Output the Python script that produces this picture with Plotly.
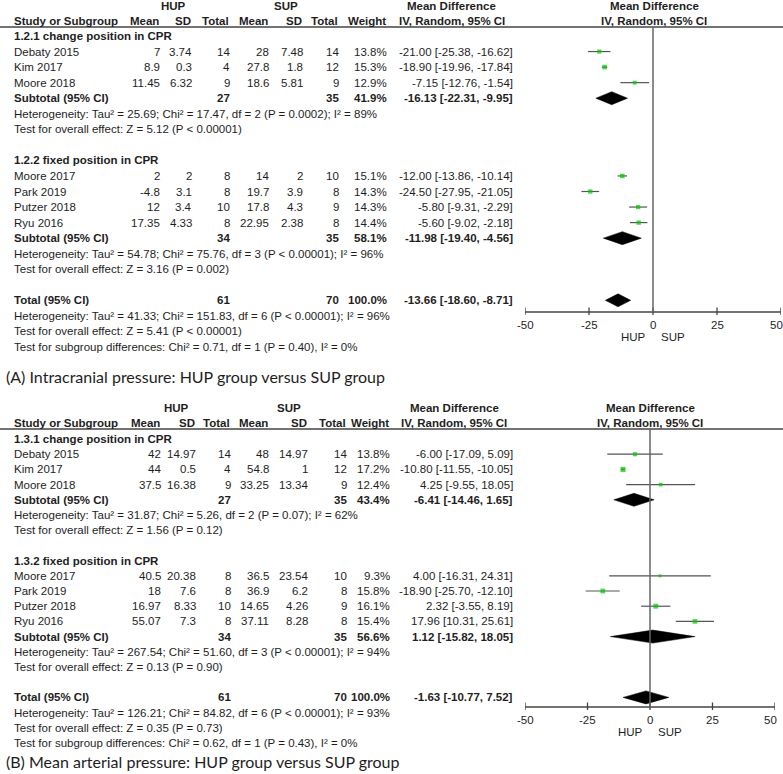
import plotly.graph_objects as go

W, H = 783, 774

# ---------------- DATA ----------------
# Panel A: Intracranial pressure
A_sub1_title = "1.2.1 change position in CPR"
A_sub1_study = ["Debaty 2015", "Kim 2017", "Moore 2018"]
A_sub1_hup_mean = [7, 8.9, 11.45]
A_sub1_hup_sd = [3.74, 0.3, 6.32]
A_sub1_hup_n = [14, 4, 9]
A_sub1_sup_mean = [28, 27.8, 18.6]
A_sub1_sup_sd = [7.48, 1.8, 5.81]
A_sub1_sup_n = [14, 12, 9]
A_sub1_weight = [13.8, 15.3, 12.9]
A_sub1_md = [-21.00, -18.90, -7.15]
A_sub1_lo = [-25.38, -19.96, -12.76]
A_sub1_hi = [-16.62, -17.84, -1.54]
A_sub1_total = [27, 35, 41.9, -16.13, -22.31, -9.95]
A_sub1_het = "Heterogeneity: Tau² = 25.69; Chi² = 17.47, df = 2 (P = 0.0002); I² = 89%"
A_sub1_test = "Test for overall effect: Z = 5.12 (P < 0.00001)"

A_sub2_title = "1.2.2 fixed position in CPR"
A_sub2_study = ["Moore 2017", "Park 2019", "Putzer 2018", "Ryu 2016"]
A_sub2_hup_mean = [2, -4.8, 12, 17.35]
A_sub2_hup_sd = [2, 3.1, 3.4, 4.33]
A_sub2_hup_n = [8, 8, 10, 8]
A_sub2_sup_mean = [14, 19.7, 17.8, 22.95]
A_sub2_sup_sd = [2, 3.9, 4.3, 2.38]
A_sub2_sup_n = [10, 8, 9, 8]
A_sub2_weight = [15.1, 14.3, 14.3, 14.4]
A_sub2_md = [-12.00, -24.50, -5.80, -5.60]
A_sub2_lo = [-13.86, -27.95, -9.31, -9.02]
A_sub2_hi = [-10.14, -21.05, -2.29, -2.18]
A_sub2_total = [34, 35, 58.1, -11.98, -19.40, -4.56]
A_sub2_het = "Heterogeneity: Tau² = 54.78; Chi² = 75.76, df = 3 (P < 0.00001); I² = 96%"
A_sub2_test = "Test for overall effect: Z = 3.16 (P = 0.002)"

A_total = [61, 70, 100.0, -13.66, -18.60, -8.71]
A_total_het = "Heterogeneity: Tau² = 41.33; Chi² = 151.83, df = 6 (P < 0.00001); I² = 96%"
A_total_test = "Test for overall effect: Z = 5.41 (P < 0.00001)"
A_subgroup_test = "Test for subgroup differences: Chi² = 0.71, df = 1 (P = 0.40), I² = 0%"
A_caption = "(A) Intracranial pressure: HUP group versus SUP group"

# Panel B: Mean arterial pressure
B_sub1_title = "1.3.1 change position in CPR"
B_sub1_study = ["Debaty 2015", "Kim 2017", "Moore 2018"]
B_sub1_hup_mean = [42, 44, 37.5]
B_sub1_hup_sd = [14.97, 0.5, 16.38]
B_sub1_hup_n = [14, 4, 9]
B_sub1_sup_mean = [48, 54.8, 33.25]
B_sub1_sup_sd = [14.97, 1, 13.34]
B_sub1_sup_n = [14, 12, 9]
B_sub1_weight = [13.8, 17.2, 12.4]
B_sub1_md = [-6.00, -10.80, 4.25]
B_sub1_lo = [-17.09, -11.55, -9.55]
B_sub1_hi = [5.09, -10.05, 18.05]
B_sub1_total = [27, 35, 43.4, -6.41, -14.46, 1.65]
B_sub1_het = "Heterogeneity: Tau² = 31.87; Chi² = 5.26, df = 2 (P = 0.07); I² = 62%"
B_sub1_test = "Test for overall effect: Z = 1.56 (P = 0.12)"

B_sub2_title = "1.3.2 fixed position in CPR"
B_sub2_study = ["Moore 2017", "Park 2019", "Putzer 2018", "Ryu 2016"]
B_sub2_hup_mean = [40.5, 18, 16.97, 55.07]
B_sub2_hup_sd = [20.38, 7.6, 8.33, 7.3]
B_sub2_hup_n = [8, 8, 10, 8]
B_sub2_sup_mean = [36.5, 36.9, 14.65, 37.11]
B_sub2_sup_sd = [23.54, 6.2, 4.26, 8.28]
B_sub2_sup_n = [10, 8, 9, 8]
B_sub2_weight = [9.3, 15.8, 16.1, 15.4]
B_sub2_md = [4.00, -18.90, 2.32, 17.96]
B_sub2_lo = [-16.31, -25.70, -3.55, 10.31]
B_sub2_hi = [24.31, -12.10, 8.19, 25.61]
B_sub2_total = [34, 35, 56.6, 1.12, -15.82, 18.05]
B_sub2_het = "Heterogeneity: Tau² = 267.54; Chi² = 51.60, df = 3 (P < 0.00001); I² = 94%"
B_sub2_test = "Test for overall effect: Z = 0.13 (P = 0.90)"

B_total = [61, 70, 100.0, -1.63, -10.77, 7.52]
B_total_het = "Heterogeneity: Tau² = 126.21; Chi² = 84.82, df = 6 (P < 0.00001); I² = 93%"
B_total_test = "Test for overall effect: Z = 0.35 (P = 0.73)"
B_subgroup_test = "Test for subgroup differences: Chi² = 0.62, df = 1 (P = 0.43), I² = 0%"
B_caption = "(B) Mean arterial pressure: HUP group versus SUP group"

tick_vals = [-50, -25, 0, 25, 50]
col_headers = ["Mean", "SD", "Total", "Mean", "SD", "Total", "Weight"]

# ---------------- STYLE / LAYOUT ----------------
FONT = "Liberation Sans, Arial, sans-serif"
TXT = "#1e1e1e"
FS = 11.5
GREEN = "#00c800"
LINEC = "#555555"

fig = go.Figure()
ann = []
shapes = []


def px(x):
    return x / W


def text(x, y, s, anchor="left", bold=False, size=FS, family=FONT, xref="paper"):
    ann.append(dict(
        x=px(x) if xref == "paper" else x, y=y, xref=xref, yref="y",
        text=("<b>%s</b>" % s) if bold else s, showarrow=False,
        xanchor=anchor, yanchor="middle",
        font=dict(family=family, size=size, color=TXT)))


def fmt(v):
    return "%g" % v


def panel(P, cfg):
    xa = cfg["xaxis"]
    rows_y = lambda i: cfg["y0"] + i * cfg["step"]
    cols = cfg["cols"]
    # group headers
    text(cfg["hup_c"], cfg["hy"], "HUP", "center", True)
    text(cfg["sup_c"], cfg["hy"], "SUP", "center", True)
    text(cfg["md_c"], cfg["hy"], "Mean Difference", "center", True)
    text(cfg["fp_c"], cfg["hy"], "Mean Difference", "center", True)
    text(12, cfg["cy"], "Study or Subgroup", "left", True)
    for c, h in zip(cols, col_headers):
        text(c, cfg["cy"], h, "right", True)
    text(cfg["md_c"], cfg["cy"], "IV, Random, 95% CI", "center", True)
    text(cfg["fp_c"], cfg["cy"], "IV, Random, 95% CI", "center", True)
    shapes.append(dict(type="line", xref="paper", yref="y", x0=0, x1=1,
                       y0=cfg["ly"], y1=cfg["ly"],
                       line=dict(color="#444444", width=1.5)))

    all_md, all_lo, all_hi, all_w, all_y = [], [], [], [], []
    diamonds = []
    r = 0
    for s in P["subs"]:
        text(12, rows_y(r), s["title"], "left", True)
        r += 1
        for i, name in enumerate(s["study"]):
            y = rows_y(r)
            text(12, y, name)
            vals = [fmt(s["hm"][i]), fmt(s["hs"][i]), fmt(s["hn"][i]),
                    fmt(s["sm"][i]), fmt(s["ss"][i]), fmt(s["sn"][i]),
                    "%.1f%%" % s["w"][i]]
            for c, v in zip(cols, vals):
                text(c + 1, y, v, "right")
            text(cfg["mdr"], y, "%.2f [%.2f, %.2f]" % (s["md"][i], s["lo"][i], s["hi"][i]), "right")
            all_md.append(s["md"][i]); all_lo.append(s["lo"][i]); all_hi.append(s["hi"][i])
            all_w.append(s["w"][i]); all_y.append(y)
            r += 1
        t = s["tot"]
        y = rows_y(r)
        text(12, y, "Subtotal (95% CI)", "left", True)
        text(cols[2] + 1, y, fmt(t[0]), "right", True)
        text(cols[5] + 1, y, fmt(t[1]), "right", True)
        text(cols[6] + 1, y, "%.1f%%" % t[2], "right", True)
        text(cfg["mdr"], y, "%.2f [%.2f, %.2f]" % (t[3], t[4], t[5]), "right", True)
        diamonds.append((t, y))
        r += 1
        text(12, rows_y(r), s["het"]); r += 1
        text(12, rows_y(r), s["test"]); r += 1
        r += 1
    t = P["total"]
    y = rows_y(r)
    text(12, y, "Total (95% CI)", "left", True)
    text(cols[2] + 1, y, fmt(t[0]), "right", True)
    text(cols[5] + 1, y, fmt(t[1]), "right", True)
    text(cols[6] + 1, y, "%.1f%%" % t[2], "right", True)
    text(cfg["mdr"], y, "%.2f [%.2f, %.2f]" % (t[3], t[4], t[5]), "right", True)
    diamonds.append((t, y))
    r += 1
    for line in P["foot"]:
        text(12, rows_y(r), line); r += 1
    text(4, cfg["capy"], P["caption"], "left", False, 16, "Lato, Carlito, sans-serif")

    # zero line
    shapes.append(dict(type="line", xref=xa, yref="y", x0=0, x1=0,
                       y0=cfg["ly"], y1=cfg["ay"], line=dict(color="#666666", width=1.5)))
    # CI + squares
    fig.add_trace(go.Scatter(
        x=all_md, y=all_y, mode="markers", xaxis=xa, yaxis="y",
        marker=dict(symbol="square", color=GREEN, size=[max(3, w * 0.3) for w in all_w],
                    line=dict(width=0)),
        error_x=dict(type="data", symmetric=False,
                     array=[h - m for h, m in zip(all_hi, all_md)],
                     arrayminus=[m - l for m, l in zip(all_md, all_lo)],
                     width=0, thickness=1.2, color=LINEC),
        hoverinfo="skip", showlegend=False, cliponaxis=False))
    # diamonds
    for t, yc in diamonds:
        hh = 6.5
        fig.add_trace(go.Scatter(
            x=[t[4], t[3], t[5], t[3], t[4]], y=[yc, yc - hh, yc, yc + hh, yc],
            xaxis=xa, yaxis="y", mode="lines", fill="toself", fillcolor="black",
            line=dict(color="black", width=0.5), hoverinfo="skip", showlegend=False))
    # axis line and ticks
    ay = cfg["ay"]
    fig.add_trace(go.Scatter(x=[tick_vals[0], tick_vals[-1]], y=[ay, ay], xaxis=xa, yaxis="y",
                             mode="lines", line=dict(color="#444444", width=1.3),
                             hoverinfo="skip", showlegend=False, cliponaxis=False))
    tx, ty = [], []
    for tv in tick_vals:
        tx += [tv, tv, None]
        ty += [ay - 4.5, ay + 3, None]
    fig.add_trace(go.Scatter(x=tx, y=ty, xaxis=xa, yaxis="y", mode="lines",
                             line=dict(color="#444444", width=1.3),
                             hoverinfo="skip", showlegend=False, cliponaxis=False))
    for i, tv in enumerate(tick_vals):
        anchor = "right" if i == len(tick_vals) - 1 else "center"
        ann.append(dict(x=tv, y=ay + 13, xref=xa, yref="y", text="%d" % tv, showarrow=False,
                        xanchor=anchor, yanchor="middle",
                        xshift=(4 if anchor == "right" else 0),
                        font=dict(family=FONT, size=FS, color=TXT)))
    ann.append(dict(x=0, y=ay + 25, xref=xa, yref="y", text="HUP", showarrow=False,
                    xanchor="right", yanchor="middle", xshift=-5,
                    font=dict(family=FONT, size=FS, color=TXT)))
    ann.append(dict(x=0, y=ay + 25, xref=xa, yref="y", text="SUP", showarrow=False,
                    xanchor="left", yanchor="middle", xshift=6,
                    font=dict(family=FONT, size=FS, color=TXT)))


PA = dict(
    subs=[dict(title=A_sub1_title, study=A_sub1_study, hm=A_sub1_hup_mean, hs=A_sub1_hup_sd,
               hn=A_sub1_hup_n, sm=A_sub1_sup_mean, ss=A_sub1_sup_sd, sn=A_sub1_sup_n,
               w=A_sub1_weight, md=A_sub1_md, lo=A_sub1_lo, hi=A_sub1_hi,
               tot=A_sub1_total, het=A_sub1_het, test=A_sub1_test),
          dict(title=A_sub2_title, study=A_sub2_study, hm=A_sub2_hup_mean, hs=A_sub2_hup_sd,
               hn=A_sub2_hup_n, sm=A_sub2_sup_mean, ss=A_sub2_sup_sd, sn=A_sub2_sup_n,
               w=A_sub2_weight, md=A_sub2_md, lo=A_sub2_lo, hi=A_sub2_hi,
               tot=A_sub2_total, het=A_sub2_het, test=A_sub2_test)],
    total=A_total, foot=[A_total_het, A_total_test, A_subgroup_test], caption=A_caption)
PB = dict(
    subs=[dict(title=B_sub1_title, study=B_sub1_study, hm=B_sub1_hup_mean, hs=B_sub1_hup_sd,
               hn=B_sub1_hup_n, sm=B_sub1_sup_mean, ss=B_sub1_sup_sd, sn=B_sub1_sup_n,
               w=B_sub1_weight, md=B_sub1_md, lo=B_sub1_lo, hi=B_sub1_hi,
               tot=B_sub1_total, het=B_sub1_het, test=B_sub1_test),
          dict(title=B_sub2_title, study=B_sub2_study, hm=B_sub2_hup_mean, hs=B_sub2_hup_sd,
               hn=B_sub2_hup_n, sm=B_sub2_sup_mean, ss=B_sub2_sup_sd, sn=B_sub2_sup_n,
               w=B_sub2_weight, md=B_sub2_md, lo=B_sub2_lo, hi=B_sub2_hi,
               tot=B_sub2_total, het=B_sub2_het, test=B_sub2_test)],
    total=B_total, foot=[B_total_het, B_total_test, B_subgroup_test], caption=B_caption)

cfgA = dict(xaxis="x", hy=6, cy=21, ly=27, y0=36, step=15.55, ay=312, capy=376,
            cols=[161, 193, 231, 270, 304, 340, 388], mdr=515,
            hup_c=173, sup_c=286, md_c=452, fp_c=654)
cfgB = dict(xaxis="x2", hy=408, cy=423, ly=429, y0=439, step=15.2, ay=707, capy=761,
            cols=[162, 197, 232, 270, 309, 348, 391], mdr=515,
            hup_c=176, sup_c=289, md_c=454, fp_c=650)

panel(PA, cfgA)
panel(PB, cfgB)

fig.update_layout(
    width=W, height=H, margin=dict(l=0, r=0, t=0, b=0),
    paper_bgcolor="white", plot_bgcolor="rgba(0,0,0,0)",
    xaxis=dict(domain=[525 / W, 781 / W], range=[-50, 50], visible=False, anchor="y"),
    xaxis2=dict(domain=[525 / W, 775 / W], range=[-50, 50], visible=False, anchor="y"),
    yaxis=dict(domain=[0, 1], range=[H, 0], visible=False),
    annotations=ann, shapes=shapes, showlegend=False)

fig.write_html("out.html", config={"displayModeBar": False},
               post_script="document.body.style.margin='0';document.body.style.padding='0';")
